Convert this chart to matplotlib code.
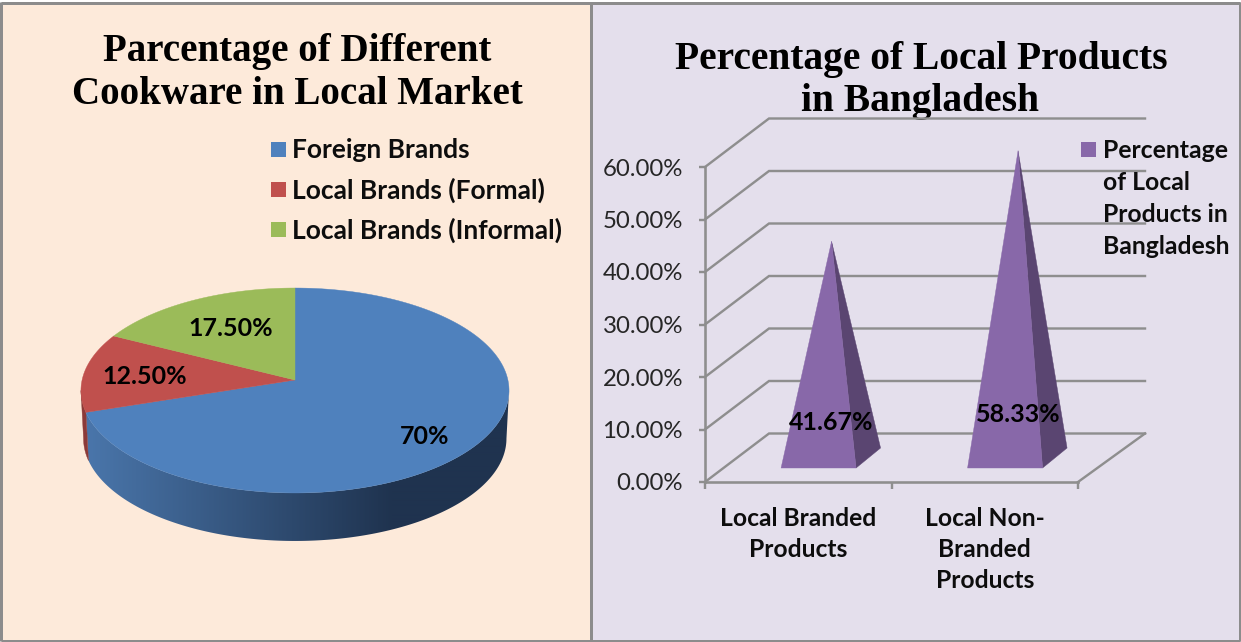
import numpy as np
import matplotlib
matplotlib.use("Agg")
import matplotlib.pyplot as plt
from matplotlib.colors import LinearSegmentedColormap
from matplotlib.patches import Polygon, Rectangle

# Cookware market shares (percent)
cookware_labels = ["Foreign Brands", "Local Brands (Formal)", "Local Brands (Informal)"]
cookware_values = [70.0, 12.5, 17.5]
cookware_texts = ["70%", "12.50%", "17.50%"]

# Local product shares (percent)
product_labels = ["Local Branded\nProducts", "Local Non-\nBranded\nProducts"]
product_values = [41.67, 58.33]
product_texts = ["41.67%", "58.33%"]
axis_ticks = [0, 10, 20, 30, 40, 50, 60]

WIDTH, HEIGHT = 1241, 642
SANS = "Lato"
SERIF = "Liberation Serif"
PT = 72 / 100  # points per pixel at 100 dpi

PIE_COLORS = ["#4F81BD", "#C0504D", "#9BBB59"]
SIDE_RED = "#8C3A38"
GRID = "#8E8E8E"
FRONT = "#8868A9"
SIDE = "#5A4571"

fig = plt.figure(figsize=(WIDTH / 100, HEIGHT / 100), dpi=100, facecolor="white")

# Canvas in pixel units for the panels and the pie
canvas = fig.add_axes([0, 0, 1, 1])
canvas.axis("off")

canvas.add_patch(Rectangle((2, 3), 589, 637, fc="#FDEADA", ec="none", zorder=0))
canvas.add_patch(Rectangle((591, 3), 648, 637, fc="#E4DFEC", ec="none", zorder=0))
for x0, y0, x1, y1 in [(1, 2.5, 1240, 2.5), (1, 640.5, 1240, 640.5),
                       (1, 2, 1, 641), (1239.5, 2, 1239.5, 641), (591, 2, 591, 641)]:
    canvas.plot([x0, x1], [y0, y1], color="#8C8C8C", lw=3 * PT, solid_capstyle="butt", zorder=1)

# Tilted pie: a disc pushed through a perspective projection
CX, CY, RX, RY, TILT, DEPTH = 295.0, 380.0, 212.9, 101.4, 0.1024, 48.0
# Angle offset of the silhouette points, where the rim is widest on screen
SILHOUETTE = np.arcsin(TILT)


def project(theta, drop=0.0):
    s, c = np.sin(theta), np.cos(theta)
    w = 1 + TILT * c
    shrink = 1 - 0.012 * drop / DEPTH
    return CX + RX * s / w * shrink, CY - RY * c / w + drop


edges = np.cumsum([0.0] + cookware_values) / sum(cookware_values) * 2 * np.pi


def wall(theta_from, theta_to):
    angles = np.linspace(theta_from, theta_to, 200)
    tx, ty = project(angles)
    bx, by = project(angles[::-1], drop=DEPTH)
    return list(zip(np.r_[tx, bx], np.r_[ty, by]))


# Rim wall of the large slice, shaded left to right
wall_shape = Polygon(wall(np.pi / 2 + SILHOUETTE, edges[1]), closed=True, fc="none", ec="none", zorder=2)
canvas.add_patch(wall_shape)
shade = LinearSegmentedColormap.from_list("wall", ["#4A76AB", "#1F334F"])
ramp = canvas.imshow(np.clip(np.linspace(0, 1, 440) / 0.7, 0, 1)[None, :], cmap=shade,
                     vmin=0, vmax=1, extent=(85, 525, 560, 380), aspect="auto", zorder=2,
                     interpolation="bilinear")
ramp.set_clip_path(wall_shape)

# Thin wall of the red slice, visible only at the far left
canvas.add_patch(Polygon(wall(edges[1], 1.5 * np.pi - SILHOUETTE), closed=True,
                         fc=SIDE_RED, ec=SIDE_RED, lw=0.3, zorder=2))

canvas.set_xlim(0, WIDTH)
canvas.set_ylim(HEIGHT, 0)
canvas.set_aspect("auto")

# Top face
for i, colour in enumerate(PIE_COLORS):
    angles = np.linspace(edges[i], edges[i + 1], 160)
    xs, ys = project(angles)
    pts = [(CX, CY)] + list(zip(xs, ys))
    canvas.add_patch(Polygon(pts, closed=True, fc=colour, ec=colour, lw=0.3, zorder=3))

for text, (x, y) in zip(cookware_texts, [(425, 437), (145, 377), (231, 329)]):
    canvas.text(x, y, text, ha="center", va="center", family=SANS, weight="bold",
                fontsize=25 * PT, color="black", zorder=5)

# Left legend
for label, colour, y in zip(cookware_labels, PIE_COLORS, [149, 189, 229]):
    canvas.add_patch(Rectangle((271, y - 7.5), 15, 15, fc=colour, ec="none", zorder=4))
    canvas.text(292, y + 1, label, ha="left", va="center", family=SANS, weight="bold",
                fontsize=26.4 * PT, color="#0D0D0D", zorder=5)

# Panel headings
for text, x, y, size in [("Parcentage of Different", 297, 51, 39),
                         ("Cookware in Local Market", 297, 94, 39),
                         ("Percentage of Local Products", 921, 59, 39.5),
                         ("in Bangladesh", 920, 102, 39.5)]:
    canvas.text(x, y, text, ha="center", va="center", family=SERIF, weight="bold",
                fontsize=size * PT, color="black", zorder=5)

# Chart axes with real percent and category scales
AX_X0, AX_X1, AX_Y0, AX_Y1 = 705, 1145, 482, 118
PX_PER_CAT = (1078 - 705) / 2
PX_PER_PCT = (482 - 167) / 60
ax = fig.add_axes([AX_X0 / WIDTH, 1 - AX_Y0 / HEIGHT,
                   (AX_X1 - AX_X0) / WIDTH, (AX_Y0 - AX_Y1) / HEIGHT])
ax.set_xlim(0, (AX_X1 - AX_X0) / PX_PER_CAT)
ax.set_ylim(0, (AX_Y0 - AX_Y1) / PX_PER_PCT)
ax.patch.set_alpha(0)

depth_x = 64 / PX_PER_CAT
depth_y = 48.5 / PX_PER_PCT
back_x = (AX_X1 - AX_X0) / PX_PER_CAT

for v in axis_ticks:
    ax.plot([0, depth_x, back_x], [v, v + depth_y, v + depth_y], color=GRID,
            lw=2.4 * PT, clip_on=False, zorder=1, solid_joinstyle="miter")
ax.plot([2, back_x], [0, depth_y], color=GRID, lw=2.4 * PT, clip_on=False, zorder=1)

for side in ("top", "right"):
    ax.spines[side].set_visible(False)
ax.spines["left"].set_bounds(0, 60)
ax.spines["bottom"].set_bounds(0, 2)
for side in ("left", "bottom"):
    ax.spines[side].set_color(GRID)
    ax.spines[side].set_linewidth(2.6 * PT)

ax.set_yticks(axis_ticks)
ax.set_yticklabels([f"{v:.2f}%" for v in axis_ticks], family=SANS, fontsize=24 * PT, color="#262626")
ax.set_xticks([0, 1, 2])
ax.set_xticklabels([])
ax.set_xticks([0.5, 1.5], minor=True)
ax.set_xticklabels(product_labels, minor=True, family=SANS, weight="bold", fontsize=24.6 * PT,
                   color="#0D0D0D", linespacing=1.44)
ax.tick_params(axis="y", length=6 * PT, width=2.4 * PT, color=GRID, pad=16 * PT)
ax.tick_params(axis="x", which="major", length=7 * PT, width=2.4 * PT, color=GRID)
ax.tick_params(axis="x", which="minor", length=0, pad=24.5 * PT)

# Pyramids: the height follows the value, standing on the raised floor
BASE_PCT = 14 / PX_PER_PCT
HEIGHT_GAIN = 1.036
half_base = 37.5 / PX_PER_CAT
apex_shift = 13 / PX_PER_CAT
side_dx, side_dy = 24.5 / PX_PER_CAT, 20 / PX_PER_PCT
for i, (value, text) in enumerate(zip(product_values, product_texts)):
    centre = 0.609 + i
    apex = (centre + apex_shift, BASE_PCT + value * HEIGHT_GAIN)
    left = (centre - half_base, BASE_PCT)
    right = (centre + half_base, BASE_PCT)
    rear = (right[0] + side_dx, BASE_PCT + side_dy)
    ax.add_patch(Polygon([right, rear, apex], closed=True, fc=SIDE, ec=SIDE, lw=0.3,
                         clip_on=False, zorder=3))
    ax.add_patch(Polygon([left, right, apex], closed=True, fc=FRONT, ec=FRONT, lw=0.3,
                         clip_on=False, zorder=4))
    label_y = [(482 - 423) / PX_PER_PCT, (482 - 415) / PX_PER_PCT][i]
    ax.text(apex[0], label_y, text, ha="center", va="center", family=SANS, weight="bold",
            fontsize=25 * PT, color="black", zorder=6, clip_on=False)

# Right legend
canvas.add_patch(Rectangle((1081, 142), 15, 15, fc=FRONT, ec="none", zorder=4))
legend_lines = ["Percentage", "of Local", "Products in", "Bangladesh"]
front_axes = fig.add_axes([0, 0, 1, 1], zorder=5)
front_axes.set_xlim(0, WIDTH)
front_axes.set_ylim(HEIGHT, 0)
front_axes.axis("off")
for line, y in zip(legend_lines, [150, 182, 214, 246]):
    front_axes.text(1103, y, line, ha="left", va="center", family=SANS, weight="bold",
                    fontsize=24.8 * PT, color="#0D0D0D")

fig.savefig("out.png", dpi=100)
